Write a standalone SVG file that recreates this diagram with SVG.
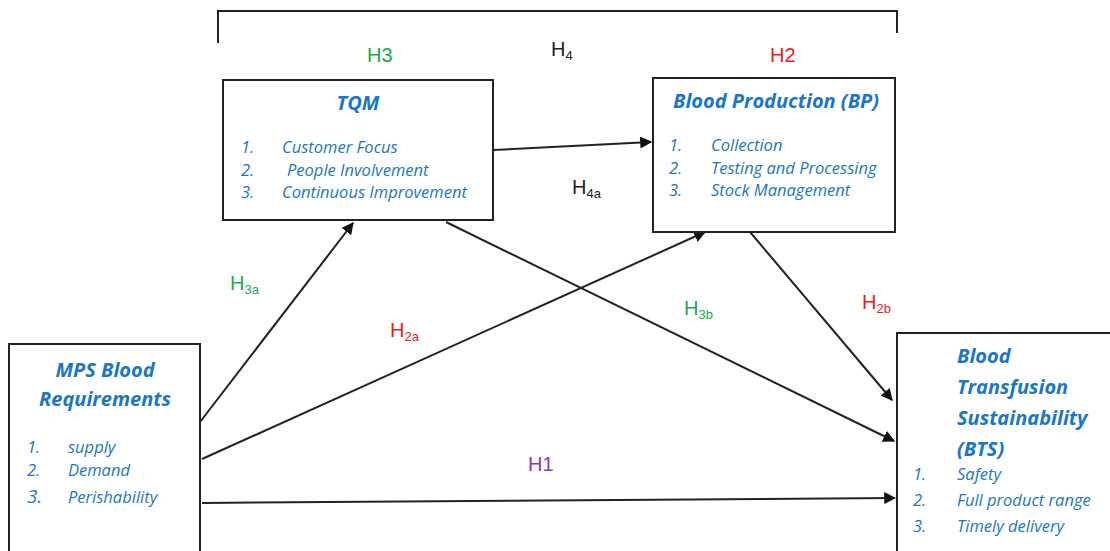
<svg xmlns="http://www.w3.org/2000/svg" width="1110" height="551" viewBox="0 0 1110 551">
<style>
.box{fill:#fff;stroke:#222;stroke-width:2}
.conn{stroke:#222;stroke-width:2;fill:none}
.title{font-family:"Open Sans","Liberation Sans",sans-serif;font-style:italic;font-weight:bold;font-size:20px;fill:#1a76c8}
.item{font-family:"Open Sans","Liberation Sans",sans-serif;font-style:italic;font-size:16.5px;fill:#1a76c8}
.h{font-family:"Liberation Sans",Arial,sans-serif;font-size:20px}
.sub{font-size:13px}
.g{fill:#1aaa4a}.r{fill:#f01a1a}.k{fill:#222}.p{fill:#8a3ab9}
</style>
<defs>
<marker id="ah" viewBox="0 0 10 10" refX="9" refY="5" markerWidth="6" markerHeight="6" orient="auto" markerUnits="strokeWidth">
<path d="M0,0 L10,5 L0,10 z" fill="#111"/>
</marker>
</defs>
<g id="bracket">
<path class="conn" d="M218,43 L218,11 L897,11 L897,33"/>
</g>
<g id="connectors">
<line class="conn" x1="493" y1="150" x2="651" y2="142" marker-end="url(#ah)"/>
<line class="conn" x1="200" y1="422" x2="353" y2="223" marker-end="url(#ah)"/>
<line class="conn" x1="202" y1="459" x2="705" y2="232" marker-end="url(#ah)"/>
<line class="conn" x1="446" y1="222" x2="894" y2="441" marker-end="url(#ah)"/>
<line class="conn" x1="750" y1="232" x2="892" y2="400" marker-end="url(#ah)"/>
<line class="conn" x1="202" y1="503" x2="895" y2="498" marker-end="url(#ah)"/>
</g>
<g id="tqm">
<rect class="box" x="223" y="80" width="270" height="140"/>
<text class="title" x="358" y="110" text-anchor="middle">TQM</text>
<text class="item" x="241" y="153">1.</text><text class="item" x="282" y="153">Customer Focus</text>
<text class="item" x="241" y="176">2.</text><text class="item" x="287" y="176">People Involvement</text>
<text class="item" x="241" y="198">3.</text><text class="item" x="282" y="198">Continuous Improvement</text>
</g>
<g id="bp">
<rect class="box" x="653" y="78" width="242" height="154"/>
<text class="title" x="776" y="108" text-anchor="middle">Blood Production (BP)</text>
<text class="item" x="669" y="151">1.</text><text class="item" x="711" y="151">Collection</text>
<text class="item" x="669" y="174">2.</text><text class="item" x="711" y="174">Testing and Processing</text>
<text class="item" x="669" y="196">3.</text><text class="item" x="711" y="196">Stock Management</text>
</g>
<g id="mps">
<rect class="box" x="9" y="344" width="191" height="215"/>
<text class="title" x="105" y="377" text-anchor="middle">MPS Blood</text>
<text class="title" x="105" y="406" text-anchor="middle">Requirements</text>
<text class="item" x="27" y="453">1.</text><text class="item" x="68" y="453">supply</text>
<text class="item" x="27" y="476">2.</text><text class="item" x="68" y="476">Demand</text>
<text class="item" x="27" y="503" style="font-size:19px">3.</text><text class="item" x="68" y="503">Perishability</text>
</g>
<g id="bts">
<rect class="box" x="897" y="333" width="220" height="230"/>
<text class="title" x="957" y="363">Blood</text>
<text class="title" x="957" y="394">Transfusion</text>
<text class="title" x="957" y="425">Sustainability</text>
<text class="title" x="957" y="456">(BTS)</text>
<text class="item" x="913" y="480">1.</text><text class="item" x="957" y="480">Safety</text>
<text class="item" x="913" y="506">2.</text><text class="item" x="957" y="506">Full product range</text>
<text class="item" x="913" y="532">3.</text><text class="item" x="957" y="532">Timely delivery</text>
</g>
<g id="labels">
<text class="h g" x="367" y="62">H3</text>
<text class="h k" x="551" y="56">H<tspan class="sub" dy="4">4</tspan></text>
<text class="h r" x="770" y="62">H2</text>
<text class="h k" x="572" y="194">H<tspan class="sub" dy="4">4a</tspan></text>
<text class="h g" x="230" y="290">H<tspan class="sub" dy="4">3a</tspan></text>
<text class="h r" x="390" y="337">H<tspan class="sub" dy="4">2a</tspan></text>
<text class="h g" x="684" y="315">H<tspan class="sub" dy="4">3b</tspan></text>
<text class="h r" x="862" y="309">H<tspan class="sub" dy="4">2b</tspan></text>
<text class="h p" x="528" y="471">H1</text>
</g>
</svg>
